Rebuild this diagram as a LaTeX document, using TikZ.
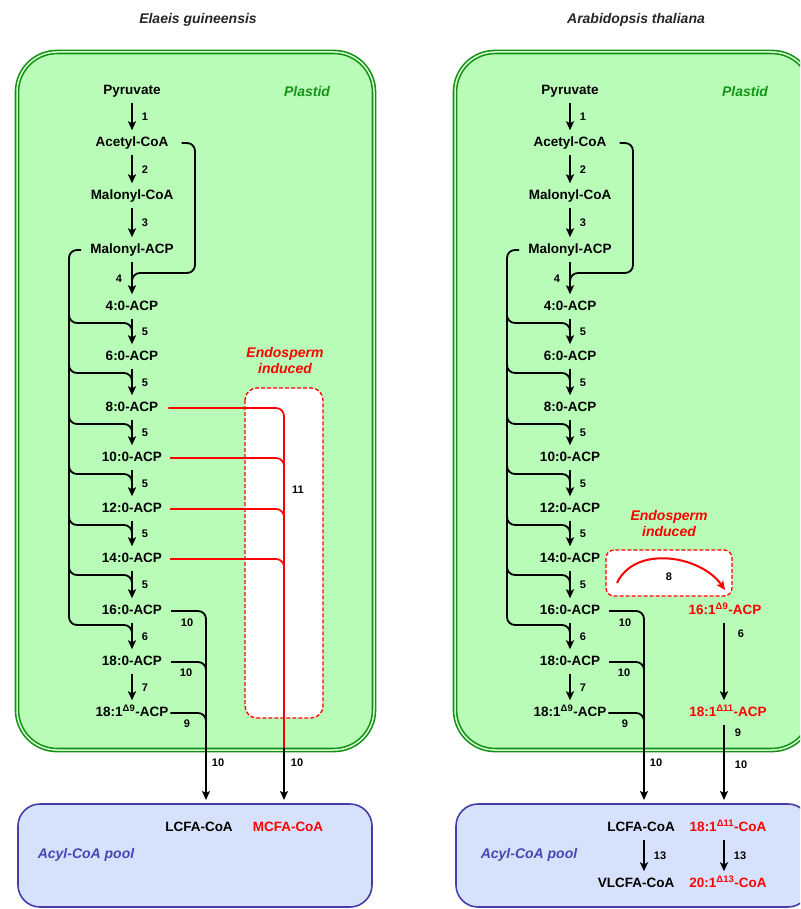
\documentclass[tikz,border=0pt]{standalone}
\usepackage{fontspec}
\setmainfont{Liberation Sans}
\usetikzlibrary{arrows.meta}

\definecolor{plastidfill}{RGB}{184,252,184}
\definecolor{plastidline}{RGB}{20,145,20}
\definecolor{plastidtext}{RGB}{20,150,20}
\definecolor{poolfill}{RGB}{214,226,252}
\definecolor{poolline}{RGB}{70,60,170}
\definecolor{pooltext}{RGB}{70,70,180}

\tikzset{
  met/.style={font=\fontsize{13.5}{16}\selectfont\bfseries, text height=10pt, text depth=3pt, inner sep=1pt},
  num/.style={font=\fontsize{11}{13}\selectfont\bfseries, inner sep=1pt},
  title/.style={font=\fontsize{14}{16}\selectfont\bfseries\itshape, text=black!85},
  plastidlbl/.style={font=\fontsize{14}{16}\selectfont\bfseries\itshape, text=plastidtext},
  poollbl/.style={font=\fontsize{14}{16}\selectfont\bfseries\itshape, text=pooltext},
  endolbl/.style={font=\fontsize{14}{16}\selectfont\bfseries\itshape, text=red, align=center},
  rx/.style={line width=1.8pt, -{Stealth[length=9pt,width=8pt,inset=2pt]}},
  rxs/.style={rx, shorten <=4pt, shorten >=5pt},
  ln/.style={line width=1.8pt, rounded corners=8pt},
  redln/.style={line width=1.7pt, red, rounded corners=8pt},
  plastidbox/.style={fill=plastidfill, draw=plastidline, double=white!40!plastidfill, double distance=1.5pt, line width=1.6pt, rounded corners=40pt},
  poolbox/.style={fill=poolfill, draw=poolline, line width=1.6pt, rounded corners=22pt},
  endobox/.style={draw=red, fill=white, dash pattern=on 4pt off 2pt, line width=1.3pt, rounded corners=12pt}
}

\begin{document}
\begin{tikzpicture}[x=1pt,y=-1pt]
\clip (0,0) rectangle (800,909);

% both species share the plastid pathway
\foreach \p/\dx/\title/\ax in {L/0/Elaeis guineensis/86, R/438/Arabidopsis thaliana/91}{
\begin{scope}[xshift=\dx pt]
  \draw[plastidbox] (17,52) rectangle (374,750);
  \draw[poolbox] (18,804) rectangle (372,907);
  \node[title] (\p-title) at (198,20) {\title};
  \node[plastidlbl] (\p-plastid) at (307,92) {Plastid};
  \node[poollbl] (\p-pool) at (\ax,855) {Acyl-CoA pool};

  \foreach \n/\t/\y in {pyr/Pyruvate/91, accoa/Acetyl-CoA/143, malcoa/Malonyl-CoA/196,
      malacp/Malonyl-ACP/250, c4/4:0-ACP/307, c6/6:0-ACP/357, c8/8:0-ACP/408,
      c10/10:0-ACP/458, c12/12:0-ACP/509, c14/14:0-ACP/559, c16/16:0-ACP/611,
      c18/18:0-ACP/662, c181/{18:1\textsuperscript{Δ9}-ACP}/713}
    \node[met] (\p-\n) at (132,\y) {\t};

  \foreach \a/\b/\k in {pyr/accoa/1, accoa/malcoa/2, malcoa/malacp/3, c4/c6/5, c6/c8/5,
      c8/c10/5, c10/c12/5, c12/c14/5, c14/c16/5, c16/c18/6, c18/c181/7}
    \draw[rxs] (\p-\a) -- (\p-\b) node[num, midway, xshift=13pt] (\p-n\a) {\k};
  \draw[rxs] (\p-malacp) -- (\p-c4) node[num, midway, xshift=-13pt] (\p-nmalacp) {4};

  % acetyl-CoA joins step 4
  \coordinate (\p-j4) at (195,273);
  \draw[ln] ([xshift=12pt]\p-accoa.east) -| (\p-j4) -| ([yshift=10pt]\p-c4.north);

  % malonyl-ACP feeds every elongation
  \coordinate (\p-vb) at (69,625);
  \coordinate (\p-vj) at (132,640);
  \draw[ln] ([xshift=-8pt]\p-malacp.west) -| (\p-vb) -| (\p-vj);
  \foreach \c in {c4,c6,c8,c10,c12,c14}
    \draw[ln] ([xshift=-63pt,yshift=-6pt]\p-\c.center) |- ++(40,10) -| ++(23,14);

  % export of long chains
  \coordinate (\p-in1) at (206,800);
  \coordinate (\p-j18) at (206,676);
  \coordinate (\p-j181) at (206,727);
  \draw[rx, rounded corners=8pt] ([xshift=8pt]\p-c16.east) -| (\p-in1);
  \draw[ln] ([xshift=8pt]\p-c18.east) -| (\p-j18);
  \draw[ln] ([xshift=1pt]\p-c181.east) -| (\p-j181);
  \node[num] (\p-n10a) at (187,623) {10};
  \node[num] (\p-n10b) at (186,673) {10};
  \node[num] (\p-n9) at (187,724) {9};
  \node[num] (\p-n10c) at (218,763) {10};
\end{scope}
}

% Elaeis: medium chains
\draw[endobox] (245,388) rectangle (323,718);
\node[endolbl] (L-endo) at (285,360) {Endosperm\\induced};
\coordinate (L-rv) at (284,748);
\coordinate (L-in2) at (284,800);
\draw[redln] ([xshift=9pt]L-c8.east) -| (L-rv);
\foreach \c/\y in {c10/471, c12/522, c14/572}
  \draw[redln] ([xshift=7pt]L-\c.east) -| (284,\y);
\node[num] (L-n11) at (298,490) {11};
\draw[rx] (L-rv) -- (L-in2) node[num, pos=0.29, xshift=13pt] (L-n10d) {10};
\node[met] (L-lcfa) at (199,828) {LCFA-CoA};
\node[met, text=red] (L-mcfa) at (288,828) {MCFA-CoA};

% Arabidopsis: 16:1 branch
\draw[endobox, rounded corners=8pt] (606,550) rectangle (732,596);
\node[endolbl] (R-endo) at (669,523) {Endosperm\\induced};
\coordinate (R-a8s) at (617,583);
\coordinate (R-a8e) at (725,590);
\draw[line width=2pt, red, -{Stealth[length=9pt,width=8pt,inset=2pt]}] (R-a8s) to[out=65,in=125] (R-a8e);
\node[num] (R-n8) at (669,577) {8};
\node[met, text=red] (R-c161) at (725,611) {16:1\textsuperscript{Δ9}-ACP};
\node[met, text=red] (R-c1811) at (728,713) {18:1\textsuperscript{Δ11}-ACP};
\coordinate (R-in2) at (724,800);
\draw[rxs] (R-c161.south -| R-in2) -- (R-c1811.north -| R-in2) node[num, pos=0.17, xshift=17pt] (R-n6b) {6};
\draw[rx, shorten <=4pt] (R-c1811.south -| R-in2) -- (R-in2)
  node[num, pos=0.15, xshift=14pt] (R-n9b) {9}
  node[num, pos=0.55, xshift=17pt] (R-n10d) {10};
\node[met] (R-lcfa) at (641,828) {LCFA-CoA};
\node[met, text=red] (R-c1811coa) at (728,828) {18:1\textsuperscript{Δ11}-CoA};
\node[met] (R-vlcfa) at (636,884) {VLCFA-CoA};
\node[met, text=red] (R-c2013coa) at (728,884) {20:1\textsuperscript{Δ13}-CoA};
\draw[rxs] (R-lcfa.south -| R-in1) -- (R-vlcfa.north -| R-in1) node[num, midway, xshift=16pt] (R-n13a) {13};
\draw[rxs] (R-c1811coa.south -| R-in2) -- (R-c2013coa.north -| R-in2) node[num, midway, xshift=16pt] (R-n13b) {13};

\end{tikzpicture}
\end{document}
